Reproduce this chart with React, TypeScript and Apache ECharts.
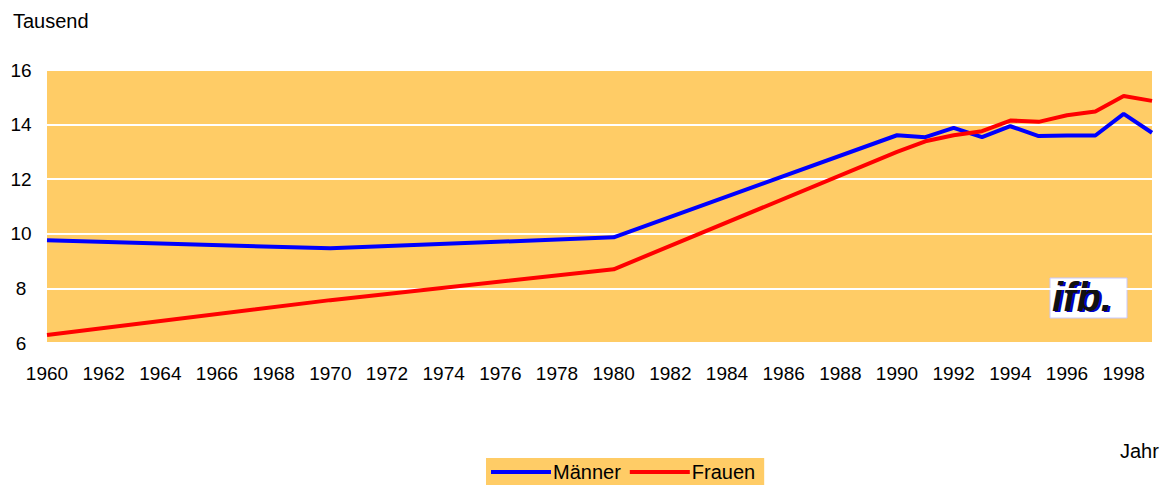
import React, { useEffect, useRef } from "react";
import * as echarts from "echarts";

const years = [1960, 1970, 1980, 1990, 1991, 1992, 1993, 1994, 1995, 1996, 1997, 1998, 1999];
const maenner = [9.76, 9.47, 9.87, 13.61, 13.54, 13.88, 13.54, 13.94, 13.58, 13.6, 13.6, 14.39, 13.7];
const frauen = [6.29, 7.57, 8.7, 13.0, 13.39, 13.61, 13.76, 14.15, 14.1, 14.34, 14.48, 15.05, 14.87];

const FONT = "Arial, 'Liberation Sans', sans-serif";

export default function App() {
  const ref = useRef<HTMLDivElement>(null);
  useEffect(() => {
    const chart = echarts.init(ref.current!, null, { renderer: "svg" });
    chart.setOption({
      animation: false,
      textStyle: { fontFamily: FONT },
      grid: {
        left: 47,
        right: 12,
        top: 70,
        bottom: 142,
        show: true,
        backgroundColor: "#FFCC66",
        borderWidth: 0,
      },
      xAxis: {
        type: "value",
        min: 1960,
        max: 1999,
        interval: 2,
        axisLine: { show: false },
        axisTick: { show: false },
        splitLine: { show: false },
        axisLabel: {
          color: "#000",
          fontSize: 19,
          margin: 21,
          fontFamily: FONT,
          formatter: (v: number) => String(v),
        },
      },
      yAxis: {
        type: "value",
        min: 6,
        max: 16,
        interval: 2,
        axisLine: { show: false },
        axisTick: { show: false },
        splitLine: { show: true, lineStyle: { color: "#FFFFFF", width: 2 } },
        axisLabel: { color: "#000", fontSize: 19, margin: 26, align: "center", fontFamily: FONT },
      },
      legend: {
        left: 486,
        top: 458,
        backgroundColor: "#FFCC66",
        padding: [4, 9, 4, 5],
        itemGap: 9,
        itemWidth: 60,
        itemHeight: 4,
        icon: "rect",
        textStyle: { color: "#000", fontSize: 20, fontFamily: FONT, padding: [0, 0, 0, -3] },
        data: ["Männer", "Frauen"],
      },
      graphic: [
        { type: "text", left: 13, top: 11, style: { text: "Tausend", fill: "#000", font: `20px ${FONT}` } },
        { type: "text", left: 1120, top: 441, style: { text: "Jahr", fill: "#000", font: `20px ${FONT}` } },
        {
          type: "rect",
          shape: { x: 1050, y: 278, width: 77, height: 40 },
          style: { fill: "#FFFFFF", stroke: "#C8C8FF", lineWidth: 1 },
        },
        {
          type: "text",
          x: 1054,
          y: 278,
          style: { text: "ifb.", fill: "#0000CC", font: `italic bold 40px ${FONT}` },
        },
        {
          type: "text",
          x: 1052,
          y: 277,
          style: { text: "ifb.", fill: "#111111", font: `italic bold 40px ${FONT}` },
        },
      ],
      series: [
        {
          name: "Männer",
          type: "line",
          data: years.map((y, i) => [y, maenner[i]]),
          showSymbol: false,
          symbol: "none",
          color: "#0000FF",
          lineStyle: { color: "#0000FF", width: 4 },
        },
        {
          name: "Frauen",
          type: "line",
          data: years.map((y, i) => [y, frauen[i]]),
          showSymbol: false,
          symbol: "none",
          color: "#FF0000",
          lineStyle: { color: "#FF0000", width: 4 },
        },
      ],
    });
    return () => chart.dispose();
  }, []);
  return <div ref={ref} style={{ width: 1164, height: 485, position: "absolute", left: 0, top: 0 }} />;
}
